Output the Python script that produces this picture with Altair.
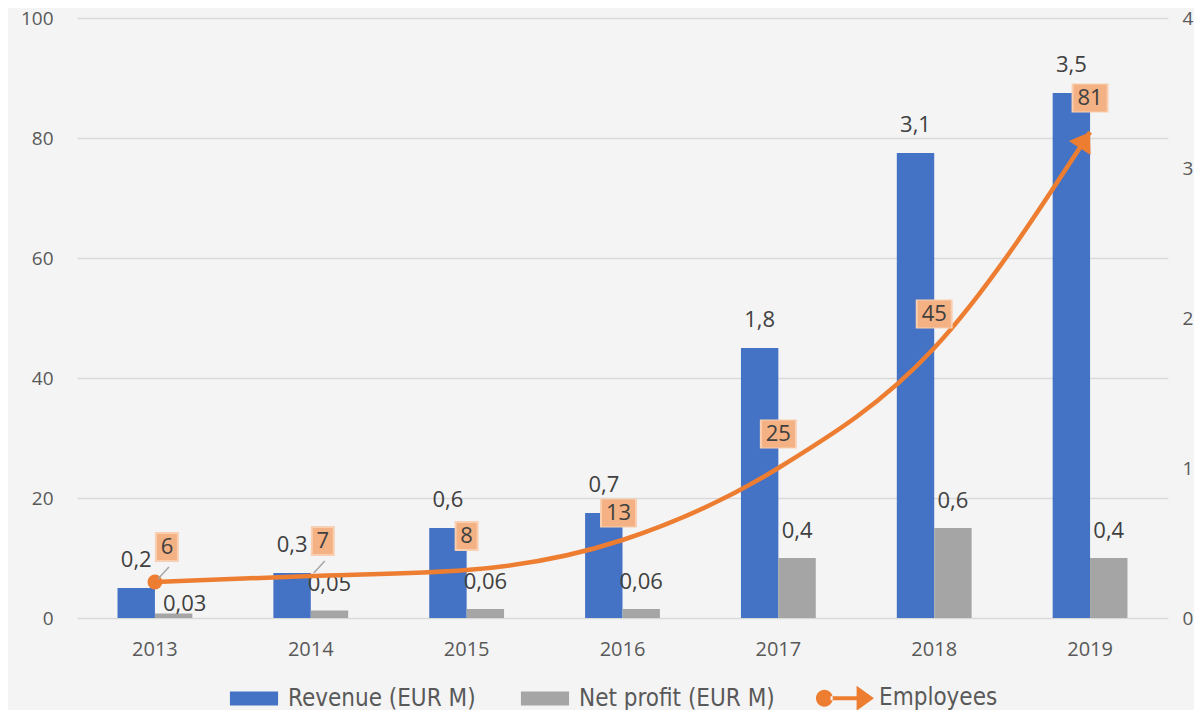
import altair as alt
import pandas as pd

# ---- data ----
years = ["2013", "2014", "2015", "2016", "2017", "2018", "2019"]
revenue = [0.2, 0.3, 0.6, 0.7, 1.8, 3.1, 3.5]
net_profit = [0.03, 0.05, 0.06, 0.06, 0.4, 0.6, 0.4]
employees = [6, 7, 8, 13, 25, 45, 81]
left_ticks = [0, 20, 40, 60, 80, 100]
right_ticks = [0, 1, 2, 3, 4]

REV = "Revenue (EUR M)"
NP = "Net profit (EUR M)"
EMP = "Employees"

BLUE = "#4472c4"
GRAY = "#a5a5a5"
ORANGE = "#ed7d31"
BOX = "#f4b183"
BOX_SOFT = "#f8cfb2"
TXT = "#404040"
AXTXT = "#595959"
FONT = "Open Sans"
LEG_FONT = "Liberation Sans Narrow, DejaVu Sans Condensed, Open Sans, sans-serif"


def fmt(v):
    return f"{v:g}".replace(".", ",")


bars_df = pd.DataFrame({
    "year": years * 2,
    "series": [REV] * len(years) + [NP] * len(years),
    "value": revenue + net_profit,
})
bars_df["label"] = bars_df["value"].map(fmt)

emp_df = pd.DataFrame({"year": years, "emp": employees})
emp_df["label"] = emp_df["emp"].astype(str)

W, H = 1091, 600

x_enc = alt.X(
    "year:N", sort=years,
    scale=alt.Scale(paddingInner=0.52, paddingOuter=0.26),
    axis=alt.Axis(title=None, labelAngle=0, domain=False, ticks=False, grid=False,
                  labelPadding=21, labelFontSize=20, labelColor=AXTXT, labelFont=FONT),
)
xoff_enc = alt.XOffset("series:N", sort=[REV, NP],
                       scale=alt.Scale(domain=[REV, NP], paddingInner=0, paddingOuter=0))

y_bar = alt.Y(
    "value:Q",
    scale=alt.Scale(domain=[0, 4], nice=False),
    axis=alt.Axis(orient="right", values=right_ticks, grid=False, domain=False, ticks=False,
                  title=None, labelPadding=14, labelFontSize=19, labelColor=AXTXT, labelFont=FONT),
)
y_emp = alt.Y(
    "emp:Q",
    scale=alt.Scale(domain=[0, 100], nice=False),
    axis=alt.Axis(orient="left", values=left_ticks, grid=True, gridColor="#d9d9d9", gridWidth=1.6,
                  domain=False, ticks=False, title=None, labelPadding=24, labelFontSize=19,
                  labelColor=AXTXT, labelFont=FONT),
)

RECT_PATH = "M-0.83,-0.24H0.83V0.24H-0.83Z"
EMP_PATH = ("M-1,0A0.29,0.29 0 1,0 -0.42,0A0.29,0.29 0 1,0 -1,0Z"
            "M-0.5,-0.07H0.45V0.07H-0.5Z"
            "M0.4,-0.43L1,0L0.4,0.43Z")

color_enc = alt.Color(
    "series:N",
    scale=alt.Scale(domain=[REV, NP, EMP], range=[BLUE, GRAY, ORANGE]),
    legend=alt.Legend(
        title=None, orient="none", direction="horizontal",
        legendX=148, legendY=651, padding=0,
        symbolType=alt.ExprRef(expr=f"datum.value === '{EMP}' ? '{EMP_PATH}' : '{RECT_PATH}'"),
        symbolSize=3364, symbolStrokeWidth=0, symbolOpacity=1,
        labelFont=LEG_FONT, labelFontSize=24, labelColor=AXTXT, labelOffset=5,
        columnPadding=40, labelLimit=400,
    ),
)

bars = alt.Chart(bars_df).mark_bar().encode(
    x=x_enc, xOffset=xoff_enc, y=y_bar, color=color_enc
)

text_style = dict(fontSize=22, color=TXT, font=FONT)
rev_text = alt.Chart(bars_df).transform_filter(f"datum.series === '{REV}'").mark_text(
    dy=-28, **text_style
).encode(x=x_enc, xOffset=xoff_enc, y=y_bar, text="label:N")
np_text = alt.Chart(bars_df).transform_filter(
    f"datum.series === '{NP}' && datum.year !== '2013'"
).mark_text(dy=-27, **text_style).encode(x=x_enc, xOffset=xoff_enc, y=y_bar, text="label:N")
np_text_first = alt.Chart(bars_df).transform_filter(
    f"datum.series === '{NP}' && datum.year === '2013'"
).mark_text(dy=-10, dx=11, **text_style).encode(x=x_enc, xOffset=xoff_enc, y=y_bar, text="label:N")

bar_layer = alt.layer(bars, rev_text, np_text, np_text_first)

# ---- employees line ----
line = alt.Chart(emp_df).mark_line(
    color=ORANGE, strokeWidth=4.5, interpolate="monotone", strokeCap="butt"
).encode(x=x_enc, y=y_emp)
start = alt.Chart(emp_df).transform_filter("datum.year === '2013'").mark_circle(
    color=ORANGE, size=220, opacity=1
).encode(x=x_enc, y=y_emp)
arrow = alt.Chart(emp_df).transform_filter("datum.year === '2019'").mark_point(
    shape="M0,0L-0.68,1L0.68,1Z", filled=True, color=ORANGE, size=1444, angle=33, opacity=1
).encode(x=x_enc, y=y_emp)

leaders = alt.Chart(emp_df).transform_filter(
    "datum.year === '2013' || datum.year === '2014'"
).mark_rule(color=GRAY, strokeWidth=1.5, xOffset=3, x2Offset=14, yOffset=-3, y2Offset=-15).encode(
    x=x_enc, x2="year:N", y=y_emp, y2="emp:Q"
)

SINGLE = "M-0.77,-1H0.77V1H-0.77Z"
DOUBLE = "M-1,-0.8125H1V0.8125H-1Z"
SINGLE_SOFT = "M-0.8,-1H0.8V1H-0.8Z"
DOUBLE_SOFT = "M-1,-0.78H1V0.78H-1Z"


def emp_labels(cond, dx, dy):
    base = alt.Chart(emp_df).transform_filter(cond)
    layers = []
    for digit_cond, shape, size, soft_shape, soft_size in [
        ("datum.emp < 10", SINGLE, 676, SINGLE_SOFT, 900),
        ("datum.emp >= 10", DOUBLE, 1089, DOUBLE_SOFT, 1369),
    ]:
        b = base.transform_filter(digit_cond)
        layers.append(b.mark_point(shape=soft_shape, filled=True, color=BOX_SOFT, size=soft_size,
                                   opacity=1, xOffset=dx, yOffset=dy).encode(x=x_enc, y=y_emp))
        layers.append(b.mark_point(shape=shape, filled=True, color=BOX, size=size,
                                   opacity=1, xOffset=dx, yOffset=dy).encode(x=x_enc, y=y_emp))
    layers.append(base.mark_text(dx=dx, dy=dy, **text_style).encode(x=x_enc, y=y_emp, text="label:N"))
    return layers


lab_a = emp_labels("datum.year === '2013' || datum.year === '2014'", 12, -35)
lab_b = emp_labels("datum.year === '2016'", -4, -27)
lab_c = emp_labels("datum.year !== '2013' && datum.year !== '2014' && datum.year !== '2016'", 0, -34)

line_layer = alt.layer(line, start, arrow, leaders, *lab_a, *lab_b, *lab_c)

chart = alt.layer(bar_layer, line_layer).resolve_scale(y="independent").properties(
    width=W, height=H,
    padding={"left": 69, "top": 10, "right": 26, "bottom": 92},
    autosize=alt.AutoSizeParams(type="none"),
).configure(background="#f4f4f4").configure_view(stroke=None)

chart.save("out.html", embed_options={"renderer": "svg", "actions": False})
